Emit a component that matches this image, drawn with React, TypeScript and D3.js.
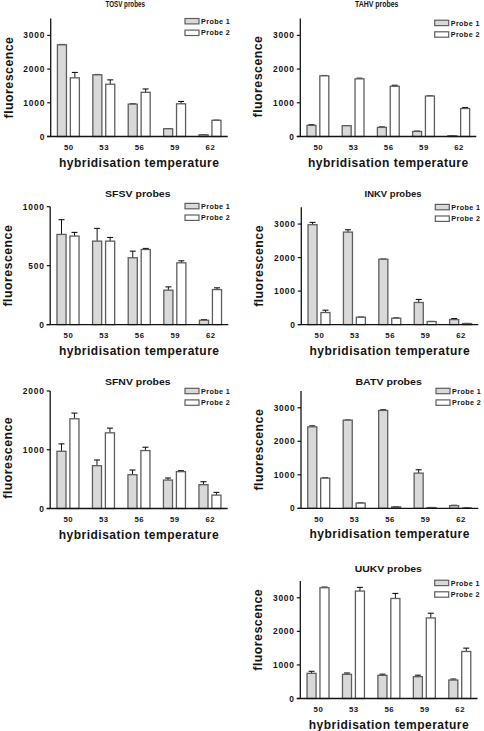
import React from "react";
import * as d3 from "d3";

// ---------- data ----------
const temperatures = ["50", "53", "56", "59", "62"];
const probeNames = ["Probe 1", "Probe 2"];
const panelTitles = ["TOSV probes", "TAHV probes", "SFSV probes", "INKV probes", "SFNV probes", "BATV probes", "UUKV probes"];
const xAxisTitle = "hybridisation temperature";
const yAxisTitle = "fluorescence";

const tosvProbe1 = [2720, 1830, 960, 230, 50];
const tosvProbe1Err = [10, 10, 10, 5, 5];
const tosvProbe2 = [1740, 1550, 1310, 970, 480];
const tosvProbe2Err = [160, 130, 100, 70, 5];

const tahvProbe1 = [330, 320, 270, 150, 20];
const tahvProbe1Err = [20, 5, 15, 10, 5];
const tahvProbe2 = [1800, 1710, 1490, 1200, 830];
const tahvProbe2Err = [10, 20, 30, 5, 30];

const sfsvProbe1 = [765, 708, 567, 292, 37];
const sfsvProbe1Err = [125, 108, 56, 28, 5];
const sfsvProbe2 = [751, 708, 637, 524, 297];
const sfsvProbe2Err = [31, 31, 9, 17, 15];

const inkvProbe1 = [2980, 2760, 1950, 660, 150];
const inkvProbe1Err = [70, 70, 5, 90, 30];
const inkvProbe2 = [360, 220, 190, 90, 30];
const inkvProbe2Err = [70, 5, 10, 5, 5];

const sfnvProbe1 = [974, 729, 575, 484, 405];
const sfnvProbe1Err = [126, 97, 80, 35, 51];
const sfnvProbe2 = [1527, 1288, 986, 627, 228];
const sfnvProbe2Err = [97, 80, 57, 17, 46];

const batvProbe1 = [2430, 2630, 2920, 1050, 80];
const batvProbe1Err = [30, 5, 20, 100, 10];
const batvProbe2 = [900, 155, 40, 20, 10];
const batvProbe2Err = [10, 5, 5, 5, 5];

const uukvProbe1 = [750, 720, 690, 650, 550];
const uukvProbe1Err = [60, 40, 35, 45, 30];
const uukvProbe2 = [3300, 3200, 2980, 2400, 1400];
const uukvProbe2Err = [20, 110, 150, 140, 100];

const yMaxes = [3500, 3500, 1000, 3500, 2000, 3500, 3500];
const yTicks = [
  [0, 1000, 2000, 3000],
  [0, 1000, 2000, 3000],
  [0, 500, 1000],
  [0, 1000, 2000, 3000],
  [0, 1000, 2000],
  [0, 1000, 2000, 3000],
  [0, 1000, 2000, 3000],
];

const panelData = [
  [tosvProbe1, tosvProbe1Err, tosvProbe2, tosvProbe2Err],
  [tahvProbe1, tahvProbe1Err, tahvProbe2, tahvProbe2Err],
  [sfsvProbe1, sfsvProbe1Err, sfsvProbe2, sfsvProbe2Err],
  [inkvProbe1, inkvProbe1Err, inkvProbe2, inkvProbe2Err],
  [sfnvProbe1, sfnvProbe1Err, sfnvProbe2, sfnvProbe2Err],
  [batvProbe1, batvProbe1Err, batvProbe2, batvProbe2Err],
  [uukvProbe1, uukvProbe1Err, uukvProbe2, uukvProbe2Err],
];

// ---------- layout ----------
const layouts = [
  { ax: 50.7, xe: 227.7, yt: 18.5, y0: 136.5, tx: 125.2, ty: 7.2, tfs: 8.2, tw: 39.5, lx: 185, ly: 18.5, yl: 0 },
  { ax: 300.3, xe: 476.3, yt: 18.5, y0: 136.5, tx: 376.7, ty: 7.2, tfs: 8.2, tw: 43.5, lx: 434.7, ly: 20.2, yl: -1 },
  { ax: 50.2, xe: 228.3, yt: 206.7, y0: 324.6, tx: 137.8, ty: 196.8, tfs: 9.6, tw: 65.5, lx: 185, ly: 203.4, yl: 0 },
  { ax: 301.3, xe: 478.3, yt: 207.3, y0: 324.6, tx: 393, ty: 196.8, tfs: 9.2, tw: 57, lx: 435.3, ly: 204.4, yl: 0 },
  { ax: 50.2, xe: 227.7, yt: 391, y0: 508.5, tx: 137.8, ty: 385.2, tfs: 9.6, tw: 65.5, lx: 185, ly: 388.3, yl: 8 },
  { ax: 301, xe: 478.3, yt: 391, y0: 508.3, tx: 388.7, ty: 385.2, tfs: 9.6, tw: 66.5, lx: 436, ly: 388.3, yl: 0 },
  { ax: 300.3, xe: 477.5, yt: 581, y0: 698.5, tx: 388.3, ty: 571.8, tfs: 9.6, tw: 67.2, lx: 434.7, ly: 580.2, yl: -10 },
];

const FONT = "'Liberation Sans', Arial, Helvetica, sans-serif";
const INK = "#141414";
const BAR_STROKE = "#5e5e5e";
const FILLS = ["#d9d9d9", "#ffffff"];

function Panel({ idx }: { idx: number }) {
  const L = layouts[idx];
  const [p1, p1e, p2, p2e] = panelData[idx];
  const values = [p1, p2];
  const errs = [p1e, p2e];
  const x = d3.scaleBand<string>().domain(temperatures).range([L.ax, L.xe]).paddingInner(0.38).paddingOuter(0.19);
  const xs = d3.scaleBand<string>().domain(probeNames).range([0, x.bandwidth()]).paddingInner(0.3);
  const y = d3.scaleLinear().domain([0, yMaxes[idx]]).range([L.y0, L.yt]);
  const bw = xs.bandwidth();
  const midY = (L.yt + L.y0) / 2 + L.yl;

  return (
    <g>
      <text
        x={L.tx - L.tw / 2}
        y={L.ty}
        textLength={L.tw}
        lengthAdjust="spacingAndGlyphs"
        fontFamily={FONT}
        fontWeight="bold"
        fontSize={L.tfs}
        fill={INK}
      >
        {panelTitles[idx]}
      </text>
      {probeNames.map((pn, si) =>
        temperatures.map((t, ti) => {
          const bx = (x(t) as number) + (xs(pn) as number);
          const v = values[si][ti];
          const e = errs[si][ti];
          const top = y(v);
          const cx = bx + bw / 2;
          return (
            <g key={pn + t}>
              <line x1={cx} x2={cx} y1={top} y2={y(v + e)} stroke={INK} strokeWidth={1} />
              <line x1={cx - 3} x2={cx + 3} y1={y(v + e)} y2={y(v + e)} stroke={INK} strokeWidth={1.1} />
              <rect x={bx} y={top} width={bw} height={Math.max(0, L.y0 - top)} fill={FILLS[si]} stroke={BAR_STROKE} strokeWidth={1.3} />
            </g>
          );
        })
      )}
      <line x1={L.ax} x2={L.ax} y1={L.yt} y2={L.y0} stroke={INK} strokeWidth={1.3} />
      <line x1={L.ax - 3.5} x2={L.xe} y1={L.y0} y2={L.y0} stroke={INK} strokeWidth={1.3} />
      {yTicks[idx].map((tv) => (
        <g key={tv}>
          <line x1={L.ax - 3.5} x2={L.ax} y1={y(tv)} y2={y(tv)} stroke={INK} strokeWidth={1.2} />
          <text x={L.ax - 5.5} y={y(tv) + 3} textAnchor="end" fontFamily={FONT} fontWeight="bold" fontSize={8.4} letterSpacing={0.8} fill={INK}>
            {tv}
          </text>
        </g>
      ))}
      {temperatures.map((t) => (
        <text key={t} x={(x(t) as number) + x.bandwidth() / 2 + 0.4} y={L.y0 + 13.5} textAnchor="middle" fontFamily={FONT} fontWeight="bold" fontSize={7.8} letterSpacing={0.5} fill={INK}>
          {t}
        </text>
      ))}
      <text x={(L.ax + L.xe) / 2} y={L.y0 + 30} textAnchor="middle" fontFamily={FONT} fontWeight="bold" fontSize={12} letterSpacing={0.5} fill={INK}>
        {xAxisTitle}
      </text>
      <text
        transform={`translate(${L.ax - 38},${midY}) rotate(-90)`}
        textAnchor="middle"
        fontFamily={FONT}
        fontWeight="bold"
        fontSize={12.4}
        letterSpacing={0.45}
        fill={INK}
      >
        {yAxisTitle}
      </text>
      {probeNames.map((pn, si) => (
        <g key={pn}>
          <rect x={L.lx} y={L.ly + si * 11.6} width={14} height={5.4} fill={FILLS[si]} stroke={BAR_STROKE} strokeWidth={1.2} />
          <text x={L.lx + 16} y={L.ly + si * 11.6 + 5.3} fontFamily={FONT} fontWeight="bold" fontSize={7.2} letterSpacing={0.4} fill={INK}>
            {pn}
          </text>
        </g>
      ))}
    </g>
  );
}

export default function App() {
  return (
    <svg
      width={484}
      height={731}
      viewBox="0 0 484 731"
      style={{ position: "absolute", left: 0, top: 0, display: "block", background: "#fff" }}
    >
      <rect width={484} height={731} fill="#fff" />
      {layouts.map((_, i) => (
        <Panel key={i} idx={i} />
      ))}
    </svg>
  );
}
